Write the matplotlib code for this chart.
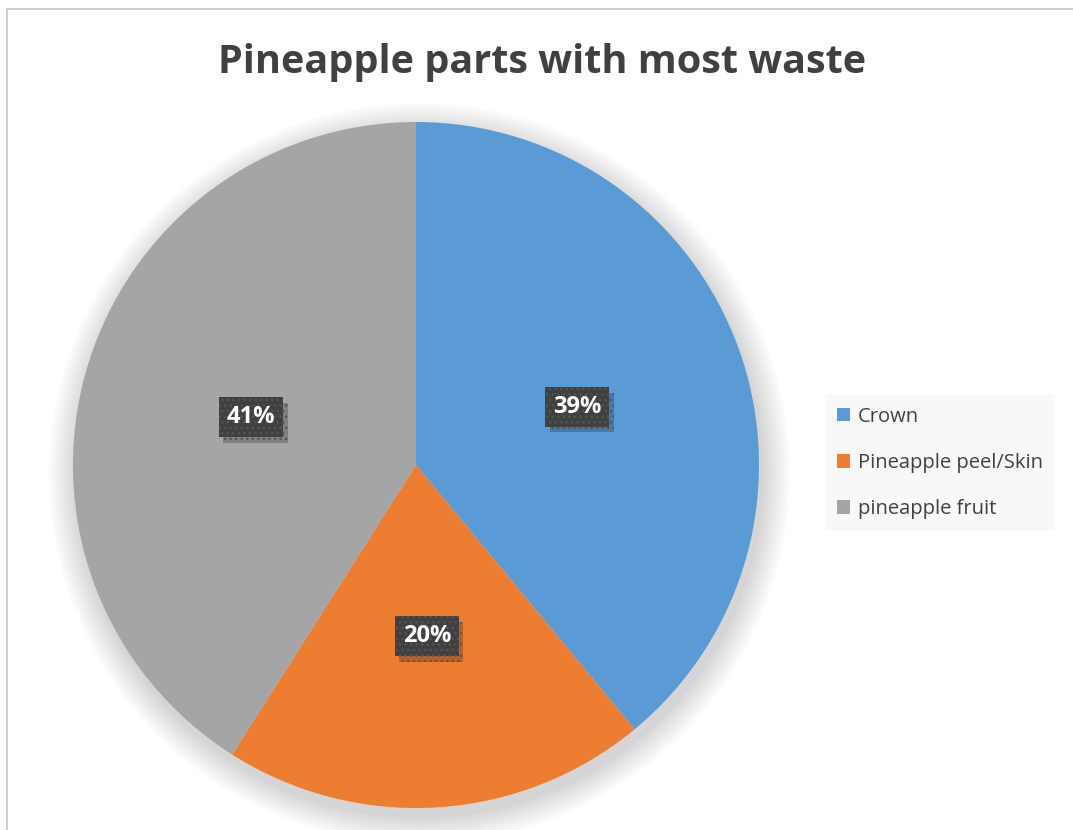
import matplotlib.pyplot as plt
import matplotlib.patheffects as pe
from matplotlib.patches import Circle, Patch
from matplotlib.lines import Line2D

parts = ["Crown", "Pineapple peel/Skin", "pineapple fruit"]
share = [39, 20, 41]
colors = ["#5b9bd5", "#ed7d31", "#a5a5a5"]

W, H = 1073, 830
fig = plt.figure(figsize=(W / 100, H / 100), dpi=100)
plt.rcParams["font.family"] = ["Open Sans", "DejaVu Sans"]

# chart border (only top and left visible in the crop)
fig.add_artist(Line2D([7 / W, 7 / W], [0, 1 - 9 / H], transform=fig.transFigure, color="#d0d0d0", lw=1.5))
fig.add_artist(Line2D([7 / W, 1], [1 - 9 / H, 1 - 9 / H], transform=fig.transFigure, color="#d0d0d0", lw=1.5))

cx, cy, r = 416, 465, 343
ax = fig.add_axes([(cx - r) / W, (H - cy - r) / H, 2 * r / W, 2 * r / H])

# soft shadow under the pie
for i in range(14):
    ax.add_patch(Circle((0.01, -0.025), 1.0 + 0.006 * i, color="black", alpha=0.01, zorder=0, clip_on=False))

wedges, texts, autotexts = ax.pie(
    share, colors=colors, startangle=90, counterclock=False, radius=1,
    autopct="%d%%", pctdistance=0.5, wedgeprops=dict(linewidth=0),
    textprops=dict(color="white", fontsize=17, fontweight="bold"))
for w in wedges:
    w.set_zorder(2)

ax.set_xlim(-1, 1)
ax.set_ylim(-1, 1)
ax.set_aspect("equal")
ax.axis("off")

for t in autotexts:
    t.set_zorder(4)
    t.set_bbox(dict(boxstyle="square,pad=0.33", fc="#404040", ec="#555555", lw=0, hatch="..."))
    t.get_bbox_patch().set_path_effects([
        pe.SimplePatchShadow(offset=(3, -4), shadow_rgbFace="black", alpha=0.22), pe.Normal()])

fig.text(542 / W, 1 - 62 / H, "Pineapple parts with most waste", ha="center", va="center",
         fontsize=28.5, fontweight="bold", color="#404040")

handles = [Patch(facecolor=c, edgecolor="none") for c in colors]
leg = fig.legend(handles, parts, loc="center left", bbox_to_anchor=(825 / W, 1 - 463 / H),
                 frameon=True, fontsize=14.5, labelcolor="#404040", handlelength=0.65,
                 handleheight=0.65, handletextpad=0.4, labelspacing=1.3, borderpad=0.6,
                 borderaxespad=0, fancybox=False)
leg.get_frame().set_facecolor("#f7f7f7")
leg.get_frame().set_edgecolor("none")

fig.savefig("out.png", dpi=100)
